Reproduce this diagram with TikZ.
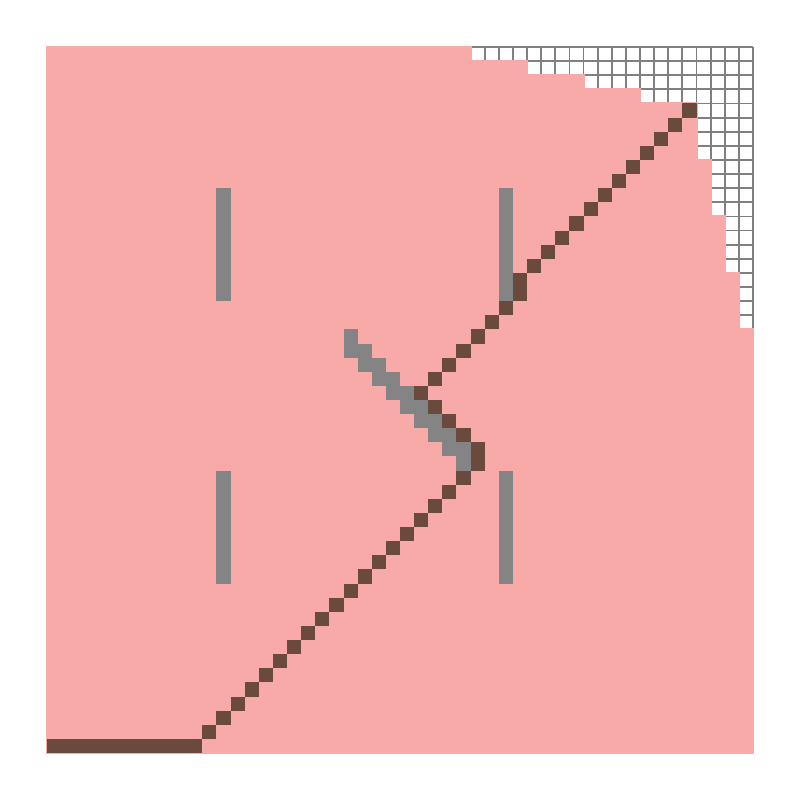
\documentclass[tikz,border=0pt]{standalone}
\usepackage{tikz}
\definecolor{visitpink}{RGB}{247,170,167}
\definecolor{routebrown}{RGB}{107,74,62}
\definecolor{wallgray}{RGB}{132,132,132}
\definecolor{gridgray}{RGB}{128,128,128}

\begin{document}
\begin{tikzpicture}[
  x=0.3cm, y=-0.3cm,
  gridline/.style={draw=gridgray, line width=1.1pt},
  visited/.style={fill=visitpink, draw=visitpink, line width=1.6pt},
  wallcell/.style={fill=wallgray},
  routecell/.style={fill=routebrown}
]
\useasboundingbox (-3.33,-3.33) rectangle (53.33,53.33);

% --- Grid of unexplored cells ---
\foreach \i in {0,...,50} {
  \draw[gridline] (\i,0) -- (\i,50);
  \draw[gridline] (0,\i) -- (50,\i);
}

% --- Explored region ---
\filldraw[visited] (0,0) -- (30,0) -- (30,1) -- (34,1) -- (34,2) -- (38,2) -- (38,3)
  -- (42,3) -- (42,4) -- (46,4) -- (46,8) -- (47,8) -- (47,12) -- (48,12)
  -- (48,16) -- (49,16) -- (49,20) -- (50,20) -- (50,50) -- (0,50) -- cycle;

% --- Walls ---
\fill[wallcell] (12,10) rectangle (13,18);
\fill[wallcell] (32,10) rectangle (33,18);
\fill[wallcell] (12,30) rectangle (13,38);
\fill[wallcell] (32,30) rectangle (33,38);
\foreach \r in {20,...,28}
  \fill[wallcell] ({\r+1},\r) rectangle ++(1,1);
\foreach \r in {21,...,29}
  \fill[wallcell] (\r,\r) rectangle ++(1,1);

% --- Route ---
\fill[routecell] (0,49) rectangle (11,50);
\foreach \r in {30,...,48}
  \fill[routecell] ({59-\r},\r) rectangle ++(1,1);
\fill[routecell] (30,28) rectangle (31,30);
\foreach \r in {24,...,27}
  \fill[routecell] ({\r+2},\r) rectangle ++(1,1);
\foreach \r in {18,...,23}
  \fill[routecell] ({50-\r},\r) rectangle ++(1,1);
\fill[routecell] (33,16) rectangle (34,18);
\foreach \r in {4,...,15}
  \fill[routecell] ({49-\r},\r) rectangle ++(1,1);

\end{tikzpicture}
\end{document}
